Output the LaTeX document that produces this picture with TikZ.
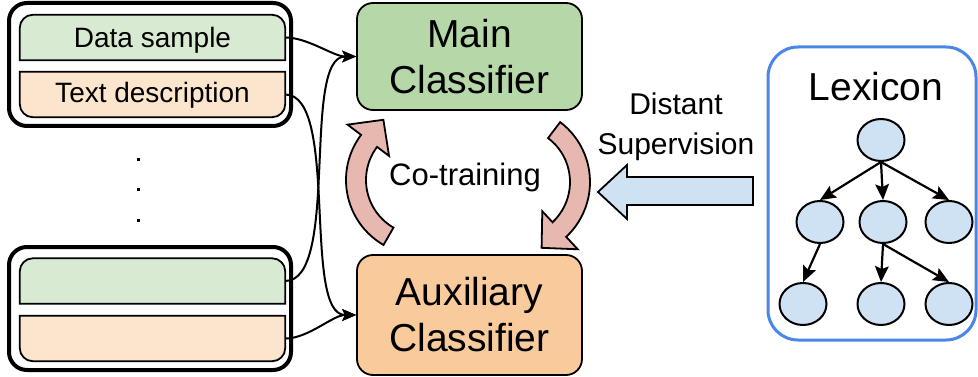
\documentclass[tikz,border=0pt]{standalone}
\usepackage{fontspec}
\setmainfont{Liberation Sans}
\usetikzlibrary{arrows.meta,calc,shapes.geometric}

\definecolor{sampgreen}{HTML}{D9EAD3}
\definecolor{descorange}{HTML}{FCE5CD}
\definecolor{maingreen}{HTML}{B6D7A8}
\definecolor{auxorange}{HTML}{F9CB9C}
\definecolor{cotrainpink}{HTML}{E6B8AF}
\definecolor{lightblue}{HTML}{CFE2F3}
\definecolor{lexblue}{HTML}{4A86E8}

\tikzset{
  headfeed/.tip={Stealth[length=14pt,width=12pt,inset=3pt,line width=0pt]},
  headtree/.tip={Stealth[length=16pt,width=14pt,inset=3pt,line width=0pt]},
}

\begin{document}
\begin{tikzpicture}[x=1pt,y=1pt,
  outerbox/.style={draw, line width=4pt, rounded corners=18pt},
  slot/.style={minimum width=265pt, minimum height=45pt, inner sep=0pt,
    font=\fontsize{28}{30}\selectfont},
  slotline/.style={draw, line width=1.8pt},
  classifier/.style={draw, line width=1.8pt, rounded corners=16pt,
    minimum width=225pt, inner sep=0pt, align=center,
    font=\fontsize{39}{46}\selectfont},
  feed/.style={line width=2pt, -headfeed},
  treenode/.style={draw, ellipse, fill=lightblue, line width=2pt,
    minimum width=47pt, minimum height=42pt, inner sep=0pt},
  treeedge/.style={line width=2.2pt, -headtree},
  cyclearrow/.style={draw, fill=cotrainpink, line width=1.8pt, line join=miter},
  bigarrow/.style={draw, fill=lightblue, line width=1.8pt, line join=miter},
]
% canvas
\fill[white] (0,0) rectangle (978,-377);
\useasboundingbox (0,0) rectangle (978,-377);

% ---- input groups ----
\draw[outerbox] (9,-3) rectangle (291,-126);
\draw[outerbox] (9,-247) rectangle (291,-370);

\node[slot] (dsTop) at (152.5,-37.5) {};
\node[slot] (tdTop) at (152.5,-94.5) {};
\node[slot] (dsBot) at (152.5,-281) {};
\node[slot] (tdBot) at (152.5,-338.5) {};

% green slots: rounded at the top
\foreach \n in {dsTop,dsBot}{
  \draw[slotline, fill=sampgreen] (\n.south west) -- ([yshift=-13pt]\n.north west)
    arc[start angle=180, end angle=90, radius=13pt]
    -- ([xshift=-13pt]\n.north east)
    arc[start angle=90, end angle=0, radius=13pt]
    -- (\n.south east) -- cycle;
}
% orange slots: rounded at the bottom
\foreach \n in {tdTop,tdBot}{
  \draw[slotline, fill=descorange] (\n.north west) -- ([yshift=13pt]\n.south west)
    arc[start angle=180, end angle=270, radius=13pt]
    -- ([xshift=-13pt]\n.south east)
    arc[start angle=270, end angle=360, radius=13pt]
    -- (\n.north east) -- cycle;
}
\node[font=\fontsize{28}{30}\selectfont] at ([yshift=-3pt]dsTop.center) {Data sample};
\node[font=\fontsize{28}{30}\selectfont] at ([yshift=-1pt]tdTop.center) {Text description};

% vertical ellipsis
\foreach \yy in {160,190,221}{
  \fill (136.5,-\yy+1.5) rectangle (139.5,-\yy-1.5);
}

% ---- classifiers ----
\node[classifier, fill=maingreen, minimum height=107pt] (main) at (469.5,-56.5)
  {Main\\Classifier};
\node[classifier, fill=auxorange, minimum height=120pt] (aux) at (469.5,-315)
  {Auxiliary\\Classifier};

% ---- feeding connectors ----
\draw[feed] (dsTop.east) to[out=0, in=180, looseness=0.8] (main.west);
\draw[feed] (tdTop.east) to[out=0, in=180, looseness=0.6] (aux.west);
\draw[feed] (dsBot.east) to[out=0, in=180, looseness=0.6] (main.west);
\draw[feed] (tdBot.east) to[out=0, in=180, looseness=0.8] (aux.west);

% ---- co-training cycle ----
\begin{scope}[shift={(421,-180)}]
  \path[cyclearrow] (240:75) arc[start angle=240, end angle=143, radius=75]
    -- (143:92) -- (122:71) -- (143:40) -- (143:55)
    arc[start angle=143, end angle=240, radius=55] -- cycle;
\end{scope}
\begin{scope}[shift={(515,-182)}, rotate=180]
  \path[cyclearrow] (233:75) arc[start angle=233, end angle=133, radius=75]
    -- (133:92) -- (112:71) -- (133:40) -- (133:55)
    arc[start angle=133, end angle=233, radius=55] -- cycle;
\end{scope}
\node[font=\fontsize{31}{34}\selectfont] (cotrain) at (465,-177) {Co-training};

% ---- distant supervision ----
\node[align=center, font=\fontsize{30}{40}\selectfont] (distant) at (676,-127)
  {Distant\\Supervision};
\path[bigarrow] (753,-177) -- (627,-177) -- (627,-165) -- (598,-192)
  -- (627,-219) -- (627,-205) -- (753,-205) -- cycle;

% ---- lexicon ----
\node[draw=lexblue, line width=3pt, rounded corners=30pt,
  minimum width=208pt, minimum height=293pt] (lexicon) at (872,-193.5) {};
\node[font=\fontsize{39}{42}\selectfont] (lexlabel) at (876,-87) {Lexicon};

\node[treenode] (r)  at (881,-140) {};
\node[treenode] (a)  at (820,-222) {};
\node[treenode] (b)  at (883,-222) {};
\node[treenode] (c)  at (949,-222) {};
\node[treenode] (aa) at (803,-304) {};
\node[treenode] (ba) at (881,-304) {};
\node[treenode] (bb) at (949,-304) {};

\draw[treeedge] (r.south) -- (a.north);
\draw[treeedge] (r.south) -- (b.north);
\draw[treeedge] (r.south) -- (c.north);
\draw[treeedge] (a.south) -- (aa.north);
\draw[treeedge] (b.south) -- (ba.north);
\draw[treeedge] (b.south) -- (bb.north);
\end{tikzpicture}
\end{document}
